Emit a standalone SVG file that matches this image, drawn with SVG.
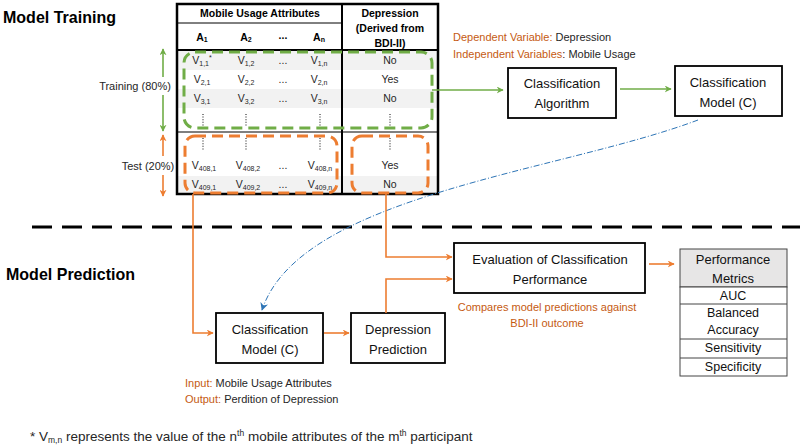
<svg xmlns="http://www.w3.org/2000/svg" width="800" height="447" viewBox="0 0 800 447">
<defs>
<style>
text{font-family:"Liberation Sans",Arial,sans-serif;fill:#262626}
.h{font-weight:bold;font-size:17px;fill:#000}
.th{font-weight:bold;font-size:10.5px;text-anchor:middle;fill:#000}
.c{font-size:10.5px;text-anchor:middle}
.s{font-size:7px}
.box{fill:#fff;stroke:#000;stroke-width:1.8}
.bt{font-size:13px;text-anchor:middle;fill:#111}
.lab{font-size:11px}
.or{fill:#c55a11}
.gl{fill:none;stroke:#70ad47;stroke-width:1.6}
.ol{fill:none;stroke:#ed7d31;stroke-width:1.6}
.gd{fill:none;stroke:#70ad47;stroke-width:3;stroke-dasharray:11 6}
.od{fill:none;stroke:#ed7d31;stroke-width:3;stroke-dasharray:11 6}
.dots{stroke:#333;stroke-width:1.2;stroke-dasharray:1 1.6}
.mt{font-size:12.5px;text-anchor:middle;fill:#111}
</style>
<marker id="ag" viewBox="0 0 10 10" refX="9" refY="5" markerWidth="7" markerHeight="7" orient="auto-start-reverse" markerUnits="userSpaceOnUse"><path d="M0,0 L10,5 L0,10 L3,5 Z" fill="#70ad47"/></marker>
<marker id="ao" viewBox="0 0 10 10" refX="9" refY="5" markerWidth="7" markerHeight="7" orient="auto-start-reverse" markerUnits="userSpaceOnUse"><path d="M0,0 L10,5 L0,10 L3,5 Z" fill="#ed7d31"/></marker>
<marker id="ab" viewBox="0 0 10 10" refX="9" refY="5" markerWidth="8" markerHeight="8" orient="auto" markerUnits="userSpaceOnUse"><path d="M0,0 L10,5 L0,10 L3,5 Z" fill="#2e75b6"/></marker>
</defs>
<rect width="800" height="447" fill="#fff"/>

<text class="h" x="3" y="23" textLength="113" lengthAdjust="spacingAndGlyphs">Model Training</text>
<text class="h" x="6" y="280" textLength="129" lengthAdjust="spacingAndGlyphs">Model Prediction</text>

<!-- data table -->
<g id="data-table">
<rect x="177" y="51" width="261" height="19" fill="#f2f2f2"/>
<rect x="177" y="89" width="261" height="19" fill="#f2f2f2"/>
<rect x="177" y="176" width="261" height="18" fill="#f2f2f2"/>
<line x1="177" y1="23" x2="342" y2="23" stroke="#000" stroke-width="1"/>
<line x1="177" y1="50" x2="438" y2="50" stroke="#000" stroke-width="2"/>
<line x1="177" y1="132" x2="438" y2="132" stroke="#555" stroke-width="1.5"/>
<line x1="342" y1="4" x2="342" y2="194" stroke="#000" stroke-width="2"/>
<rect x="177" y="4" width="261" height="190" fill="none" stroke="#000" stroke-width="2.5"/>
<text class="th" x="260" y="17">Mobile Usage Attributes</text>
<text class="th" x="202" y="41">A<tspan class="s" dy="1">1</tspan></text>
<text class="th" x="246" y="41">A<tspan class="s" dy="1">2</tspan></text>
<text class="th" x="283" y="39">...</text>
<text class="th" x="319" y="41">A<tspan class="s" dy="1">n</tspan></text>
<text class="th" x="390" y="17">Depression</text>
<text class="th" x="390" y="32">(Derived from</text>
<text class="th" x="390" y="47">BDI-II)</text>

<text class="c" x="202" y="64">V<tspan class="s" dy="2">1,1</tspan><tspan class="s" dy="-6">*</tspan></text>
<text class="c" x="246" y="64">V<tspan class="s" dy="2">1,2</tspan></text>
<text class="c" x="283" y="64">...</text>
<text class="c" x="319" y="64">V<tspan class="s" dy="2">1,n</tspan></text>
<text class="c" x="390" y="64">No</text>
<text class="c" x="202" y="83">V<tspan class="s" dy="2">2,1</tspan></text>
<text class="c" x="246" y="83">V<tspan class="s" dy="2">2,2</tspan></text>
<text class="c" x="283" y="83">...</text>
<text class="c" x="319" y="83">V<tspan class="s" dy="2">2,n</tspan></text>
<text class="c" x="390" y="83">Yes</text>
<text class="c" x="202" y="102">V<tspan class="s" dy="2">3,1</tspan></text>
<text class="c" x="246" y="102">V<tspan class="s" dy="2">3,2</tspan></text>
<text class="c" x="283" y="102">...</text>
<text class="c" x="319" y="102">V<tspan class="s" dy="2">3,n</tspan></text>
<text class="c" x="390" y="102">No</text>
<line class="dots" x1="203" y1="114" x2="203" y2="127"/>
<line class="dots" x1="246" y1="114" x2="246" y2="127"/>
<line class="dots" x1="320" y1="114" x2="320" y2="127"/>
<line class="dots" x1="390" y1="114" x2="390" y2="127"/>
<line class="dots" x1="203" y1="138" x2="203" y2="151"/>
<line class="dots" x1="246" y1="138" x2="246" y2="151"/>
<line class="dots" x1="320" y1="138" x2="320" y2="151"/>
<line class="dots" x1="390" y1="138" x2="390" y2="151"/>
<text class="c" x="204" y="169">V<tspan class="s" dy="2">408,1</tspan></text>
<text class="c" x="248" y="169">V<tspan class="s" dy="2">408,2</tspan></text>
<text class="c" x="283" y="169">...</text>
<text class="c" x="320" y="169">V<tspan class="s" dy="2">408,n</tspan></text>
<text class="c" x="390" y="169">Yes</text>
<text class="c" x="204" y="188">V<tspan class="s" dy="2">409,1</tspan></text>
<text class="c" x="248" y="188">V<tspan class="s" dy="2">409,2</tspan></text>
<text class="c" x="283" y="188">...</text>
<text class="c" x="320" y="188">V<tspan class="s" dy="2">409,n</tspan></text>
<text class="c" x="390" y="188">No</text>
<rect class="gd" x="184" y="52" width="248" height="76" rx="11"/>
<rect class="od" x="185" y="136" width="152" height="57" rx="10"/>
<rect class="od" x="352" y="136" width="76" height="57" rx="10"/>
</g>

<g id="split-labels">
<line class="gl" x1="163" y1="49" x2="163" y2="77" marker-start="url(#ag)"/>
<line class="gl" x1="163" y1="95" x2="163" y2="131" marker-end="url(#ag)"/>
<text x="135" y="90" font-size="11" text-anchor="middle">Training (80%)</text>
<line class="ol" x1="163" y1="135" x2="163" y2="156" marker-start="url(#ao)"/>
<line class="ol" x1="163" y1="175" x2="163" y2="196" marker-end="url(#ao)"/>
<text x="148" y="170" font-size="11" text-anchor="middle">Test (20%)</text>
</g>

<g id="variables-label">
<text class="lab" x="453" y="41"><tspan class="or">Dependent Variable:</tspan> Depression</text>
<text class="lab" x="453" y="58"><tspan class="or">Independent Variables</tspan>: Mobile Usage</text>
</g>

<g id="classification-algorithm">
<rect class="box" x="508" y="68" width="108" height="50"/>
<text class="bt" x="562" y="88">Classification</text>
<text class="bt" x="562" y="108">Algorithm</text>
</g>

<g id="classification-model-train">
<rect class="box" x="675" y="66" width="107" height="50"/>
<text class="bt" x="728" y="87">Classification</text>
<text class="bt" x="728" y="107">Model (C)</text>
</g>

<line x1="32" y1="227" x2="800" y2="227" stroke="#000" stroke-width="3" stroke-dasharray="20 10"/>

<g id="classification-model-predict">
<rect class="box" x="216" y="313" width="107" height="50"/>
<text class="bt" x="270" y="334">Classification</text>
<text class="bt" x="270" y="354">Model (C)</text>
</g>

<g id="depression-prediction">
<rect class="box" x="351" y="313" width="94" height="50"/>
<text class="bt" x="398" y="334">Depression</text>
<text class="bt" x="398" y="354">Prediction</text>
</g>

<g id="evaluation">
<rect class="box" x="454" y="243" width="191" height="50"/>
<text class="bt" x="550" y="264">Evaluation of Classification</text>
<text class="bt" x="550" y="284">Performance</text>
<text class="lab or" x="547" y="311" text-anchor="middle">Compares model predictions against</text>
<text class="lab or" x="547" y="327" text-anchor="middle">BDI-II outcome</text>
</g>

<g id="io-label">
<text class="lab" x="185" y="387" font-size="12"><tspan class="or">Input:</tspan> Mobile Usage Attributes</text>
<text class="lab" x="185" y="403" font-size="12"><tspan class="or">Output:</tspan>  Perdition of Depression</text>
</g>

<g id="performance-metrics">
<rect x="680" y="249" width="107" height="38" fill="#e7e6e6" stroke="#444" stroke-width="1"/>
<rect x="680" y="287" width="107" height="89" fill="#fff" stroke="#444" stroke-width="1"/>
<line x1="680" y1="304" x2="787" y2="304" stroke="#444"/>
<line x1="680" y1="339" x2="787" y2="339" stroke="#444"/>
<line x1="680" y1="358" x2="787" y2="358" stroke="#444"/>
<text class="bt" x="733" y="264" font-size="13.5">Performance</text>
<text class="bt" x="733" y="283" font-size="13.5">Metrics</text>
<text class="mt" x="733" y="300">AUC</text>
<text class="mt" x="733" y="317">Balanced</text>
<text class="mt" x="733" y="334">Accuracy</text>
<text class="mt" x="733" y="352">Sensitivity</text>
<text class="mt" x="733" y="371">Specificity</text>
</g>

<g id="connectors">
<line class="gl" x1="432" y1="90" x2="503" y2="90" marker-end="url(#ag)"/>
<line class="gl" x1="620" y1="89" x2="671" y2="89" marker-end="url(#ag)"/>
<path d="M698,120 C560,172 300,195 262,310" fill="none" stroke="#2e75b6" stroke-width="1" stroke-dasharray="6 2 1 2" marker-end="url(#ab)"/>
<polyline class="ol" points="193,194 193,333 213,333" marker-end="url(#ao)"/>
<polyline class="ol" points="386,194 386,257 452,257" marker-end="url(#ao)"/>
<polyline class="ol" points="386,313 386,279 452,279" marker-end="url(#ao)"/>
<line class="ol" x1="324" y1="333" x2="349" y2="333" marker-end="url(#ao)"/>
<line class="ol" x1="649" y1="264" x2="674" y2="264" marker-end="url(#ao)"/>
</g>

<text x="30" y="441" font-size="13.5">* V<tspan font-size="8.5" dy="2">m,n</tspan><tspan dy="-2"> represents the value of the n</tspan><tspan font-size="8.5" dy="-5">th</tspan><tspan dy="5"> mobile attributes of the m</tspan><tspan font-size="8.5" dy="-5">th</tspan><tspan dy="5"> participant</tspan></text>
</svg>
